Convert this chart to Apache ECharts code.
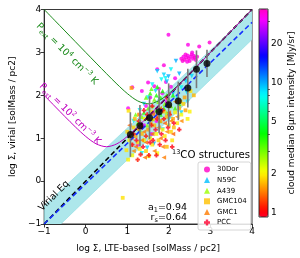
<!DOCTYPE html>
<html><head><meta charset="utf-8">
<script src="https://cdn.jsdelivr.net/npm/echarts@6/dist/echarts.min.js"></script>
<style>html,body{margin:0;padding:0;background:#fff}#c{width:300px;height:258px}</style>
</head><body><div id="c"></div>
<script>
// ---------------- data ----------------
const axisMin = -1, axisMax = 4;
const cbarTicks = [1, 2, 5, 10, 20];
const cbarMinor = [3, 4, 6, 7, 8, 9, 30];
const cbarMin = 0.93, cbarMax = 37;

const regionNames = ['30Dor', 'N59C', 'A439', 'GMC104', 'GMC1', 'PCC'];
const regionLegendColors = ['#ff00c8', '#00bfff', '#9cff00', '#ffc000', '#ff7a00', '#ff0030'];

// [log Σ LTE, log Σ virial, 8um intensity]
const dor30 = [[2.30,2.85,34],[2.35,2.90,33],[2.38,2.83,35],[2.42,2.88,34],[2.45,2.93,33],[2.48,2.86,35],[2.50,2.80,34],[2.52,2.90,33],[2.55,2.95,35],[2.58,2.85,34],[2.60,2.92,33],[2.62,2.88,35],[2.65,2.82,34],[2.44,2.78,33],[2.40,2.95,34],[2.33,2.80,35],[2.56,3.00,33],[2.68,2.90,34],
  [2.46,3.18,33],[2.73,3.14,34],[2.98,3.23,35],[1.99,3.41,33],[1.72,2.61,32],[1.88,2.70,34],[1.93,2.31,33],[1.35,2.10,32],[1.65,2.21,33],[1.76,2.15,34],[1.84,2.05,31],[1.12,2.19,33],[2.15,2.40,32],[1.55,1.95,30],[1.45,1.75,31],[1.62,1.60,30],[1.30,1.55,32],[1.70,1.40,31],[1.40,1.30,30],[1.25,0.85,31],[1.58,1.10,30],[1.95,1.85,32],[2.05,2.20,33],[1.50,2.30,33],[1.02,1.70,31]];
const n59c = [[1.72,2.56,9],[1.92,2.40,8],[2.17,2.80,10],[2.41,2.33,9],[2.30,2.18,8],[2.43,2.07,9],[2.45,1.85,8],[1.88,2.48,9],[1.99,2.44,10],[1.82,2.37,8],[1.95,2.32,9],[1.60,2.25,8],[1.68,2.10,9],[1.50,1.95,8],[2.10,2.05,10],[2.20,1.95,9],[1.78,1.90,8],[1.40,1.80,9],[1.30,1.65,8],[1.55,1.55,9],[1.35,0.65,8],[1.48,0.78,9],[1.64,0.87,10],[2.00,1.45,8],[2.30,1.60,9],[1.15,1.40,8],[1.85,1.20,9],[2.25,2.50,10],[2.55,2.45,9],[2.05,2.60,8]];
const a439 = [[1.45,1.95,3.2],[1.55,2.05,3.6],[1.65,1.90,3.0],[1.70,2.00,3.8],[1.75,1.85,2.8],[1.80,1.95,3.4],[1.85,2.10,3.9],[1.90,1.80,2.9],[1.95,2.00,3.3],[2.00,1.90,3.7],[1.60,1.75,2.7],[1.50,1.70,3.1],[1.40,1.60,3.5],[1.35,1.50,2.8],[1.70,1.65,3.2],[1.88,1.70,3.6],[2.05,1.75,3.0],[2.10,2.00,3.8],[1.25,1.35,2.9],[1.60,1.45,3.3],[1.80,1.55,3.7],[1.95,1.60,2.7],[2.15,1.70,3.4],[1.72,2.20,3.9],[1.58,2.15,3.1],[1.48,1.30,2.8],[1.30,1.20,3.3],[2.25,1.80,3.6],[1.20,1.55,3.0],[1.78,1.40,3.5]];
const gmc104 = [[1.00,1.15,1.8],[1.05,0.95,2.0],[1.10,0.85,1.7],[0.98,0.72,1.9],[1.12,0.60,2.1],[1.15,1.25,1.8],[1.20,1.05,1.6],[1.25,0.90,2.0],[1.30,0.75,1.9],[1.35,1.10,1.7],[1.40,0.95,2.1],[1.45,0.70,1.8],[1.50,1.20,1.6],[1.55,1.00,2.0],[1.60,0.85,1.9],[1.65,1.30,1.7],[1.70,1.10,2.1],[1.75,0.95,1.8],[1.80,1.40,1.6],[1.85,1.20,2.0],[1.90,1.05,1.9],[1.95,1.50,1.7],[2.00,1.30,2.1],[2.05,1.15,1.8],[2.10,1.45,1.6],[2.15,1.60,2.0],[2.20,1.35,1.9],[2.25,1.70,1.7],[2.30,1.55,2.1],[2.35,1.80,1.8],[2.40,1.65,1.6],[2.45,1.45,2.0],[2.08,0.95,1.9],[1.95,0.80,1.7],[1.72,0.65,2.1],[1.88,1.62,1.8],[0.89,-0.39,1.9],[1.02,0.50,2.0],[1.18,1.45,1.7],[1.28,1.55,1.6],[1.42,1.45,2.0],[1.58,1.62,1.9],[2.12,1.25,1.7],[1.52,0.58,2.1],[2.28,1.85,1.8],[2.38,1.95,1.6],[2.50,1.62,2.0],[2.52,2.10,1.9],[2.60,2.00,1.7],[1.62,1.45,1.8],[1.10,2.17,1.6],[1.03,1.64,1.9]];
const gmc1 = [[1.10,1.00,1.45],[1.20,0.80,1.40],[1.30,1.30,1.50],[1.40,1.15,1.45],[1.45,0.90,1.35],[1.55,1.35,1.50],[1.60,1.10,1.40],[1.65,0.70,1.45],[1.70,1.50,1.35],[1.75,1.25,1.50],[1.80,1.00,1.40],[1.85,0.80,1.45],[1.90,1.35,1.35],[1.95,1.15,1.50],[2.00,1.60,1.40],[2.05,1.40,1.45],[2.10,1.10,1.35],[2.20,1.50,1.50],[1.25,1.20,1.40],[1.35,0.95,1.45],[1.50,1.45,1.35],[1.15,0.70,1.50],[1.62,1.55,1.40],[1.78,1.70,1.45],[1.98,1.75,1.35],[2.30,1.40,1.50],[1.42,0.55,1.40],[1.88,0.55,1.45],[1.05,1.30,1.35],[2.15,1.85,1.50]];
const pcc = [[1.15,1.10,1.00],[1.22,0.95,0.95],[1.28,1.40,1.05],[1.35,1.25,1.00],[1.38,0.80,0.95],[1.45,1.05,1.10],[1.48,1.55,1.00],[1.55,0.90,0.95],[1.58,1.30,1.05],[1.62,0.95,1.00],[1.68,1.20,0.95],[1.72,1.45,1.10],[1.78,0.85,1.00],[1.82,1.10,0.95],[1.88,1.45,1.05],[1.92,0.95,1.00],[1.98,1.25,0.95],[2.02,1.55,1.10],[2.08,0.80,1.00],[2.12,1.35,0.95],[1.32,0.62,1.05],[1.52,0.60,1.00],[1.12,0.85,0.95],[1.25,0.50,1.10],[1.70,0.60,1.00],[1.40,1.65,0.95],[1.85,1.65,1.05],[2.25,1.20,1.00],[1.60,1.75,0.95],[1.95,1.95,1.10]];

// binned medians with spread
const binX = [1.074, 1.304, 1.535, 1.765, 1.995, 2.226, 2.456, 2.664, 2.917];
const binY = [1.085, 1.293, 1.477, 1.615, 1.777, 1.869, 2.168, 2.606, 2.744];
const binErr = [0.52, 0.48, 0.50, 0.50, 0.50, 0.45, 0.45, 0.44, 0.32];

// lines
const virialX = [-1, 4], virialY = [-1, 4];
const fitX = [-1, 4], fitY = [-1.0, 3.70];
const bandX = [-1, 4], bandLow = [-1.374, 3.30], bandHigh = [-0.58, 3.96];
const pHighX = [-1,-0.75,-0.5,-0.25,0,0.25,0.5,0.75,1,1.25,1.5,1.75,2,2.25,2.5,2.75,3,3.5,4];
const pHighY = [4.000,3.750,3.500,3.250,3.000,2.751,2.504,2.263,2.041,1.869,1.801,1.869,2.041,2.263,2.504,2.751,3.000,3.500,4.000];
const pLowX = [-1,-0.75,-0.5,-0.25,0,0.25,0.5,0.75,1,1.25,1.5,1.75,2,2.5,3,3.5,4];
const pLowY = [2.000,1.751,1.504,1.263,1.041,0.869,0.801,0.869,1.041,1.263,1.504,1.751,2.000,2.500,3.000,3.500,4.000];

// ---------------- chart ----------------
const FONT = 'DejaVu Sans';
const regionData = [dor30, n59c, a439, gmc104, gmc1, pcc];
const regionSymbols = ['circle', 'triangle', 'triangle', 'rect', 'triangle', 'path://M3,0H7V3H10V7H7V10H3V7H0V3H3Z'];
const regionRot = [0, 180, 0, 0, 90, 0];
const regionSize = [4, 4.5, 4.5, 3.8, 4.5, 4.5];

// gist_rainbow colormap
const gr = [[0,[1,0,0.16]],[0.03,[1,0,0]],[0.215,[1,1,0]],[0.4,[0,1,0]],[0.586,[0,1,1]],[0.77,[0,0,1]],[0.954,[1,0,1]],[1,[1,0,0.75]]];
function grColor(t){
  for (let i=1;i<gr.length;i++){
    if (t <= gr[i][0]){
      const a=gr[i-1], b=gr[i], f=(t-a[0])/(b[0]-a[0]);
      const c=a[1].map((v,k)=>Math.round(255*(v+(b[1][k]-v)*f)));
      return 'rgb('+c.join(',')+')';
    }
  }
  return 'rgb(255,0,191)';
}
const cmap = []; for (let i=0;i<=40;i++) cmap.push(grColor(i/40));
const lmin = Math.log10(cbarMin), lmax = Math.log10(cbarMax);
const minus = v => String(v).replace('-', '\u2212');

const series = [];
series.push({type:'custom', data: bandX.map((x,i)=>[x,bandLow[i],bandHigh[i]]), encode:{x:0,y:[1,2]}, z:1, silent:true,
  renderItem:(p,api)=>{
    if (p.dataIndex !== 0) return null;
    const pts = [];
    bandX.forEach((x,i)=>pts.push(api.coord([x,bandHigh[i]])));
    for (let i=bandX.length-1;i>=0;i--) pts.push(api.coord([bandX[i],bandLow[i]]));
    const cs = p.coordSys;
    return {type:'polygon', shape:{points:pts}, style:{fill:'#ade7eb', stroke:'#8adbe0', lineWidth:0.6},
      clipPath:{type:'rect', shape:{x:cs.x, y:cs.y, width:cs.width, height:cs.height}}};
  }});
regionNames.forEach((n,i)=>{
  series.push({type:'scatter', name:n, data: regionData[i].map(d=>[d[0],d[1],Math.log10(d[2])]), symbol: regionSymbols[i], symbolRotate: regionRot[i], symbolSize: regionSize[i], itemStyle:{color: regionLegendColors[i]}, z:2});
});
series.push({type:'line', data: virialX.map((x,i)=>[x,virialY[i]]), symbol:'none', lineStyle:{color:'#000',width:1.6,type:[5,3]}, z:3, silent:true});
series.push({type:'line', data: fitX.map((x,i)=>[x,fitY[i]]), symbol:'none', lineStyle:{color:'#1530ff',width:1.6,type:[5,3]}, z:3, silent:true});
series.push({type:'line', data: pHighX.map((x,i)=>[x,pHighY[i]]), symbol:'none', smooth:0.3, lineStyle:{color:'#1a8a1a',width:1}, z:3, silent:true});
series.push({type:'line', data: pLowX.map((x,i)=>[x,pLowY[i]]), symbol:'none', smooth:0.3, lineStyle:{color:'#c000c0',width:1}, z:3, silent:true});
series.push({type:'custom', data: binX.map((x,i)=>[x, binY[i]-binErr[i], binY[i]+binErr[i]]), encode:{x:0,y:[1,2]}, z:4, silent:true,
  renderItem:(p,api)=>{const a=api.coord([api.value(0),api.value(1)]), b=api.coord([api.value(0),api.value(2)]);
    return {type:'line', shape:{x1:a[0],y1:a[1],x2:b[0],y2:b[1]}, style:{stroke:'#7a7a7a',lineWidth:1.6}};}});
series.push({type:'scatter', data: binX.map((x,i)=>[x,binY[i]]), symbol:'circle', symbolSize:7, itemStyle:{color:'#000'}, z:5, silent:true});

const sub = {fontSize:6.5, lineHeight:7, verticalAlign:'bottom', fontFamily:FONT};
const sup = {fontSize:6.5, lineHeight:7, verticalAlign:'top', fontFamily:FONT};
const mainT = (c)=>({fontSize:9.5, lineHeight:13, fontFamily:FONT, fill:c});
function pLabel(exp, c, x, y){
  return {type:'text', x, y, rotation:-Math.PI/4, z:10, style:{
    text:'{m|P}{s|ext}{m| = 10}{u|'+exp+'}{m| cm}{u|\u22123}{m| K}',
    rich:{m:mainT(c), s:Object.assign({fill:c},sub), u:Object.assign({fill:c},sup)},
    align:'center', verticalAlign:'middle', fill:c}};
}

const option = {
  animation:false,
  textStyle:{fontFamily:FONT},
  grid:[
    {left:35, top:9.5, width:217, height:217, show:true, borderColor:'#222', borderWidth:0.9, backgroundColor:'transparent'},
    {left:259, top:9, width:9, height:208, show:true, borderColor:'#222', borderWidth:0.9, backgroundColor:'transparent', z:10}
  ],
  xAxis:[
    {type:'value', min:axisMin, max:axisMax, interval:1, gridIndex:0,
     name:'log \u03a3, LTE-based [solMass / pc2]', nameLocation:'middle', nameGap:20,
     nameTextStyle:{fontSize:9, color:'#000', fontFamily:FONT},
     axisLine:{onZero:false, lineStyle:{color:'#222',width:0.9}}, axisTick:{length:3.5,lineStyle:{color:'#222',width:0.9}},
     axisLabel:{fontSize:9, color:'#000', margin:3, formatter:minus, fontFamily:FONT}, splitLine:{show:false}},
    {type:'value', gridIndex:1, min:0, max:1, show:false}
  ],
  yAxis:[
    {type:'value', min:axisMin, max:axisMax, interval:1, gridIndex:0,
     name:'log \u03a3, virial [solMass / pc2]', nameLocation:'middle', nameGap:26,
     nameTextStyle:{fontSize:9, color:'#000', fontFamily:FONT},
     axisLine:{onZero:false, lineStyle:{color:'#222',width:0.9}}, axisTick:{length:3.5,lineStyle:{color:'#222',width:0.9}},
     axisLabel:{fontSize:9, color:'#000', margin:3, formatter:minus, fontFamily:FONT}, splitLine:{show:false}},
    {type:'value', gridIndex:1, min:lmin, max:lmax, position:'right',
     name:'cloud median 8\u03bcm intensity [MJy/sr]', nameLocation:'middle', nameGap:19, nameRotate:90,
     nameTextStyle:{fontSize:9, color:'#000', fontFamily:FONT},
     axisLine:{show:false},
     axisTick:{show:true, length:3.5, customValues: cbarTicks.map(v=>Math.log10(v)), lineStyle:{color:'#222',width:0.9}},
     axisLabel:{show:true, fontSize:9, color:'#000', margin:3, customValues: cbarTicks.map(v=>Math.log10(v)),
       formatter:v=>String(Math.round(Math.pow(10,v))), fontFamily:FONT}, splitLine:{show:false}},
    {type:'value', gridIndex:1, min:lmin, max:lmax, position:'right',
     axisLine:{show:false}, axisLabel:{show:false}, splitLine:{show:false},
     axisTick:{show:true, length:2, customValues: cbarMinor.map(v=>Math.log10(v)), lineStyle:{color:'#222',width:0.7}}}
  ],
  visualMap:{type:'continuous', min:lmin, max:lmax, dimension:2, seriesIndex:[1,2,3,4,5,6],
    left:259, top:9, itemWidth:9, itemHeight:208, padding:0, calculable:false, text:null, showLabel:false,
    inRange:{color:cmap}, z:1},
  legend:{data:regionNames, orient:'vertical', left:198, top:162, itemWidth:6, itemHeight:6, itemGap:3.6,
    padding:[4,4,4,6], borderColor:'#cccccc', borderWidth:0.8, borderRadius:2, backgroundColor:'rgba(255,255,255,0.85)',
    textStyle:{fontSize:7, color:'#000', fontFamily:FONT, padding:[0,0,0,2]}, selectedMode:false, z:8},
  graphic:[
    pLabel('4', '#1a8a1a', 67, 54),
    pLabel('2', '#c000c0', 70, 114),
    {type:'text', x:54, y:196, rotation:Math.PI/4, z:10, style:{text:'Virial Eq', fontSize:9.5, fontFamily:FONT, fill:'#000', align:'center', verticalAlign:'middle'}},
    {type:'text', x:172, y:155, z:10, style:{text:'{u|13}{m|CO structures}', rich:{m:{fontSize:10.2,lineHeight:13,fontFamily:FONT,fill:'#000'}, u:{fontSize:6.5,lineHeight:7,verticalAlign:'top',fontFamily:FONT,fill:'#000'}}, align:'left', verticalAlign:'middle'}},
    {type:'text', x:187, y:208, z:10, style:{text:'{m|a}{s|1}{m|=0.94}', rich:{m:{fontSize:9.5,lineHeight:12,fontFamily:FONT,fill:'#000'}, s:{fontSize:6.5,lineHeight:6,verticalAlign:'bottom',fontFamily:FONT,fill:'#000'}}, align:'right', verticalAlign:'middle'}},
    {type:'text', x:187, y:218, z:10, style:{text:'{m|r}{s|s}{m|=0.64}', rich:{m:{fontSize:9.5,lineHeight:12,fontFamily:FONT,fill:'#000'}, s:{fontSize:6.5,lineHeight:6,verticalAlign:'bottom',fontFamily:FONT,fill:'#000'}}, align:'right', verticalAlign:'middle'}}
  ],
  series
};
const chart = echarts.init(document.getElementById('c'), null, {renderer:'canvas'});
chart.setOption(option);
</script></body></html>
